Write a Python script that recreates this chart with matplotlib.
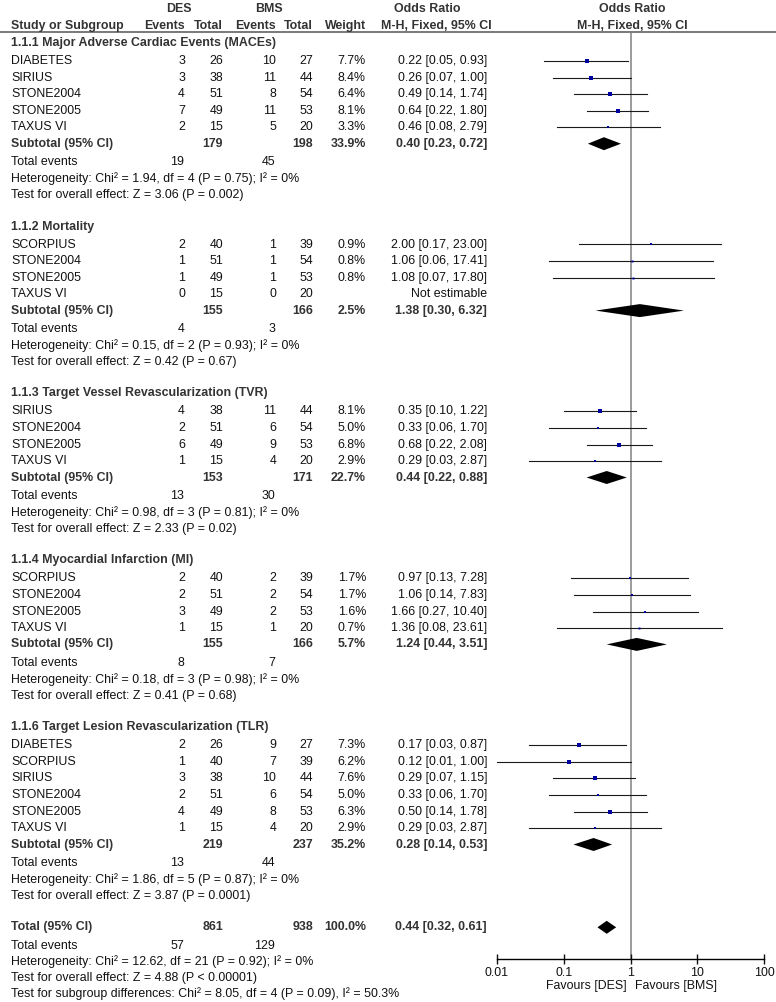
import numpy as np
import matplotlib.pyplot as plt

plt.rcParams['font.family'] = ['Liberation Sans', 'DejaVu Sans']

group_titles = ['1.1.1 Major Adverse Cardiac Events (MACEs)', '1.1.2 Mortality',
                '1.1.3 Target Vessel Revascularization (TVR)', '1.1.4 Myocardial Infarction (MI)',
                '1.1.6 Target Lesion Revascularization (TLR)']
study_names = [['DIABETES', 'SIRIUS', 'STONE2004', 'STONE2005', 'TAXUS VI'],
               ['SCORPIUS', 'STONE2004', 'STONE2005', 'TAXUS VI'],
               ['SIRIUS', 'STONE2004', 'STONE2005', 'TAXUS VI'],
               ['SCORPIUS', 'STONE2004', 'STONE2005', 'TAXUS VI'],
               ['DIABETES', 'SCORPIUS', 'SIRIUS', 'STONE2004', 'STONE2005', 'TAXUS VI']]
des_events = [[3, 3, 4, 7, 2], [2, 1, 1, 0], [4, 2, 6, 1], [2, 2, 3, 1], [2, 1, 3, 2, 4, 1]]
des_total = [[26, 38, 51, 49, 15], [40, 51, 49, 15], [38, 51, 49, 15], [40, 51, 49, 15], [26, 40, 38, 51, 49, 15]]
bms_events = [[10, 11, 8, 11, 5], [1, 1, 1, 0], [11, 6, 9, 4], [2, 2, 2, 1], [9, 7, 10, 6, 8, 4]]
bms_total = [[27, 44, 54, 53, 20], [39, 54, 53, 20], [44, 54, 53, 20], [39, 54, 53, 20], [27, 39, 44, 54, 53, 20]]
weights = [[7.7, 8.4, 6.4, 8.1, 3.3], [0.9, 0.8, 0.8, None], [8.1, 5.0, 6.8, 2.9],
           [1.7, 1.7, 1.6, 0.7], [7.3, 6.2, 7.6, 5.0, 6.3, 2.9]]
odds = [[0.22, 0.26, 0.49, 0.64, 0.46], [2.00, 1.06, 1.08, None], [0.35, 0.33, 0.68, 0.29],
        [0.97, 1.06, 1.66, 1.36], [0.17, 0.12, 0.29, 0.33, 0.50, 0.29]]
ci_low = [[0.05, 0.07, 0.14, 0.22, 0.08], [0.17, 0.06, 0.07, None], [0.10, 0.06, 0.22, 0.03],
          [0.13, 0.14, 0.27, 0.08], [0.03, 0.01, 0.07, 0.06, 0.14, 0.03]]
ci_high = [[0.93, 1.00, 1.74, 1.80, 2.79], [23.00, 17.41, 17.80, None], [1.22, 1.70, 2.08, 2.87],
           [7.28, 7.83, 10.40, 23.61], [0.87, 1.00, 1.15, 1.70, 1.78, 2.87]]

sub_des_total = [179, 155, 153, 155, 219]
sub_bms_total = [198, 166, 171, 166, 237]
sub_weight = [33.9, 2.5, 22.7, 5.7, 35.2]
sub_or = [0.40, 1.38, 0.44, 1.24, 0.28]
sub_lo = [0.23, 0.30, 0.22, 0.44, 0.14]
sub_hi = [0.72, 6.32, 0.88, 3.51, 0.53]
sub_des_ev = [19, 4, 13, 8, 13]
sub_bms_ev = [45, 3, 30, 7, 44]
het_text = ['Heterogeneity: Chi² = 1.94, df = 4 (P = 0.75); I² = 0%',
            'Heterogeneity: Chi² = 0.15, df = 2 (P = 0.93); I² = 0%',
            'Heterogeneity: Chi² = 0.98, df = 3 (P = 0.81); I² = 0%',
            'Heterogeneity: Chi² = 0.18, df = 3 (P = 0.98); I² = 0%',
            'Heterogeneity: Chi² = 1.86, df = 5 (P = 0.87); I² = 0%']
effect_text = ['Test for overall effect: Z = 3.06 (P = 0.002)',
               'Test for overall effect: Z = 0.42 (P = 0.67)',
               'Test for overall effect: Z = 2.33 (P = 0.02)',
               'Test for overall effect: Z = 0.41 (P = 0.68)',
               'Test for overall effect: Z = 3.87 (P = 0.0001)']

total_des, total_bms, total_weight = 861, 938, 100.0
total_or, total_lo, total_hi = 0.44, 0.32, 0.61
total_des_ev, total_bms_ev = 57, 129
total_het = 'Heterogeneity: Chi² = 12.62, df = 21 (P = 0.92); I² = 0%'
total_effect = 'Test for overall effect: Z = 4.88 (P < 0.00001)'
subgroup_text = 'Test for subgroup differences: Chi² = 8.05, df = 4 (P = 0.09), I² = 50.3%'
axis_ticks = [0.01, 0.1, 1, 10, 100]
axis_labels = ['0.01', '0.1', '1', '10', '100']

W, H = 776, 1002
fs = 8.9
black = '#111111'
bold_col = '#333333'
x_ev1, x_tot1, x_ev2, x_tot2, x_w, x_or = 185, 223, 276, 313, 366, 487
axis_y, head_y = 959, 32.3

fig = plt.figure(figsize=(W / 100, H / 100), dpi=100)
bg = fig.add_axes([0, 0, 1, 1])
bg.set_xlim(0, W)
bg.set_ylim(H, 0)
bg.axis('off')

fx = fig.add_axes([497 / W, (H - axis_y) / H, (764 - 497) / W, (axis_y - head_y) / H])
fx.patch.set_alpha(0)
fx.set_xscale('log')
fx.set_xlim(0.01, 100)
fx.set_ylim(axis_y, head_y)
for s in ['top', 'left', 'right']:
    fx.spines[s].set_visible(False)
fx.spines['bottom'].set_linewidth(1.0)
fx.set_yticks([])
fx.set_xticks(axis_ticks)
fx.set_xticklabels(axis_labels)
fx.minorticks_off()
fx.tick_params(axis='x', direction='inout', length=7, width=1.0, labelsize=fs, pad=2, colors=black)
fx.axvline(1, color='#808080', lw=1.1, zorder=1)


def txt(x, y, s, ha='left', bold=False):
    bg.text(x, y, s, ha=ha, va='center', fontsize=fs, fontweight='bold' if bold else 'normal',
            color=bold_col if bold else black)


def diamond(y, o, lo, hi):
    fx.fill([lo, o, hi, o], [y, y - 6.5, y, y + 6.5], color='black', lw=0, zorder=3, clip_on=False)


# header
txt(179, 9.3, 'DES', ha='center', bold=True)
txt(269, 9.3, 'BMS', ha='center', bold=True)
txt(427.5, 9.3, 'Odds Ratio', ha='center', bold=True)
txt(632, 9.3, 'Odds Ratio', ha='center', bold=True)
txt(11, 26, 'Study or Subgroup', bold=True)
txt(x_ev1, 26, 'Events', ha='right', bold=True)
txt(x_tot1, 26, 'Total', ha='right', bold=True)
txt(x_ev2, 26, 'Events', ha='right', bold=True)
txt(x_tot2, 26, 'Total', ha='right', bold=True)
txt(x_w, 26, 'Weight', ha='right', bold=True)
txt(436.5, 26, 'M-H, Fixed, 95% CI', ha='center', bold=True)
txt(632, 26, 'M-H, Fixed, 95% CI', ha='center', bold=True)
bg.plot([0, W], [head_y, head_y], color='#555555', lw=1.1)

y = 43
for g in range(len(group_titles)):
    txt(11, y, group_titles[g], bold=True)
    y += 18
    for i, name in enumerate(study_names[g]):
        if i > 0:
            y += 16.6
        txt(11, y, name)
        txt(x_ev1, y, str(des_events[g][i]), ha='right')
        txt(x_tot1, y, str(des_total[g][i]), ha='right')
        txt(x_ev2, y, str(bms_events[g][i]), ha='right')
        txt(x_tot2, y, str(bms_total[g][i]), ha='right')
        o = odds[g][i]
        if o is None:
            txt(x_or, y, 'Not estimable', ha='right')
            continue
        txt(x_w, y, f'{weights[g][i]:.1f}%', ha='right')
        txt(x_or, y, f'{o:.2f} [{ci_low[g][i]:.2f}, {ci_high[g][i]:.2f}]', ha='right')
        fx.plot([ci_low[g][i], ci_high[g][i]], [y, y], color='#1a1a1a', lw=0.8, zorder=2, clip_on=False)
        fx.plot([o], [y], marker='s', ms=1.3 + 0.16 * weights[g][i], color='#0000A0', mew=0, zorder=4)
    y += 16.3
    txt(11, y, 'Subtotal (95% CI)', bold=True)
    txt(x_tot1, y, str(sub_des_total[g]), ha='right', bold=True)
    txt(x_tot2, y, str(sub_bms_total[g]), ha='right', bold=True)
    txt(x_w, y, f'{sub_weight[g]:.1f}%', ha='right', bold=True)
    txt(x_or, y, f'{sub_or[g]:.2f} [{sub_lo[g]:.2f}, {sub_hi[g]:.2f}]', ha='right', bold=True)
    diamond(y, sub_or[g], sub_lo[g], sub_hi[g])
    y += 18.3
    txt(11, y, 'Total events')
    txt(x_ev1 - 1, y, str(sub_des_ev[g]), ha='right')
    txt(x_ev2 - 1, y, str(sub_bms_ev[g]), ha='right')
    y += 16.4
    txt(11, y, het_text[g])
    y += 16.4
    txt(11, y, effect_text[g])
    y += 31.7

txt(11, y, 'Total (95% CI)', bold=True)
txt(x_tot1, y, str(total_des), ha='right', bold=True)
txt(x_tot2, y, str(total_bms), ha='right', bold=True)
txt(x_w, y, f'{total_weight:.1f}%', ha='right', bold=True)
txt(x_or, y, f'{total_or:.2f} [{total_lo:.2f}, {total_hi:.2f}]', ha='right', bold=True)
diamond(y, total_or, total_lo, total_hi)
y += 18.3
txt(11, y, 'Total events')
txt(x_ev1 - 1, y, str(total_des_ev), ha='right')
txt(x_ev2 - 1, y, str(total_bms_ev), ha='right')
y += 16.2
txt(11, y, total_het)
y += 16
txt(11, y, total_effect)
y += 15.5
txt(11, y, subgroup_text)

txt(627, 986, 'Favours [DES]', ha='right')
txt(635, 986, 'Favours [BMS]', ha='left')

fig.savefig('out.png', dpi=100)
